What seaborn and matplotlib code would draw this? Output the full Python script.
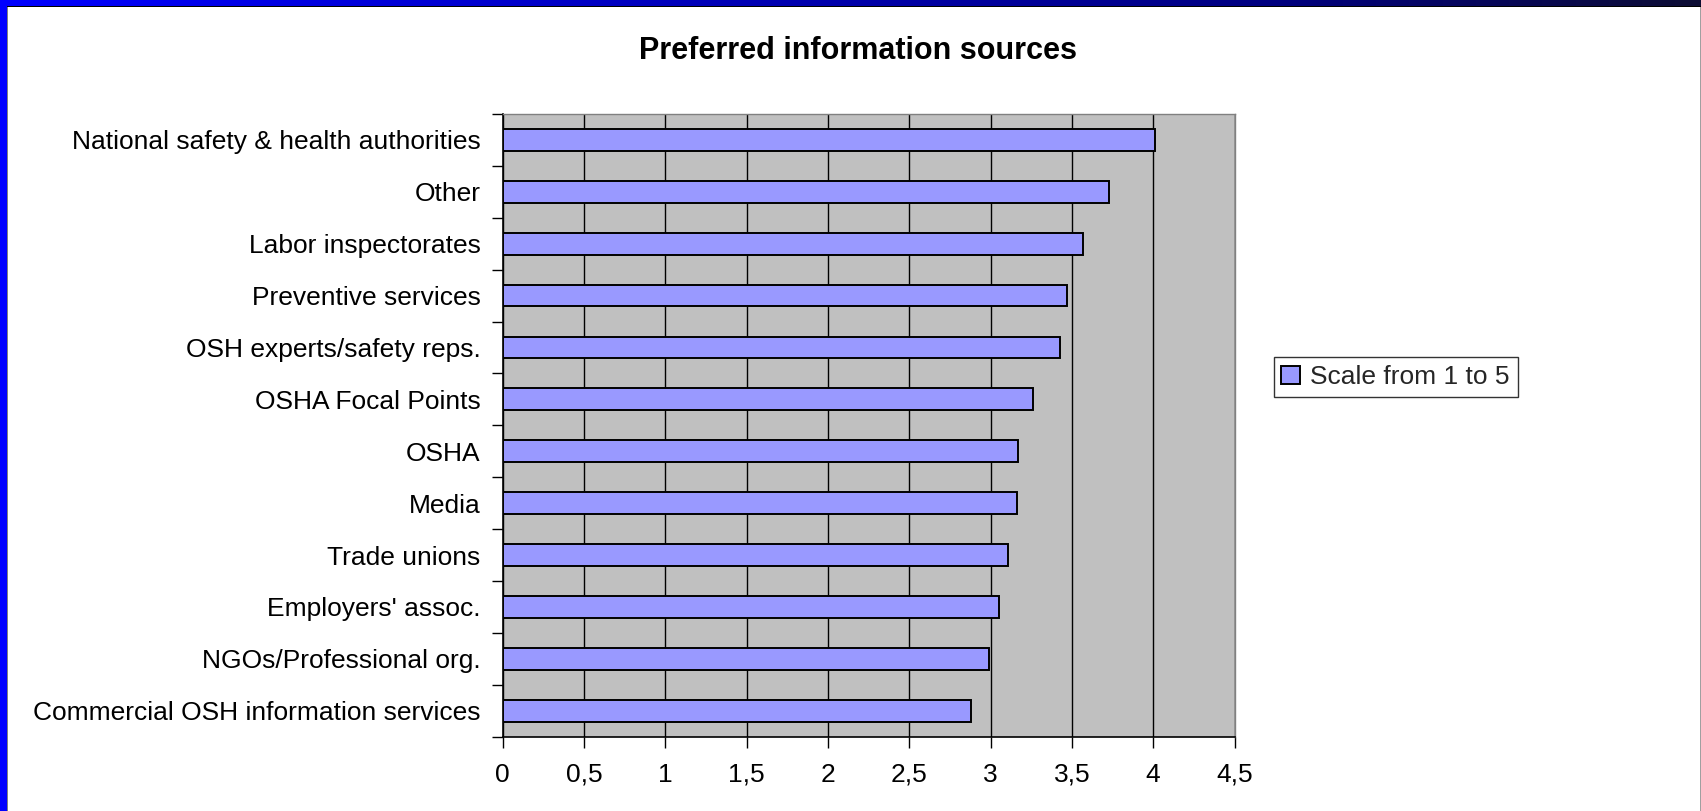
import numpy as np
import matplotlib
matplotlib.use("Agg")
import matplotlib.pyplot as plt
import matplotlib.patches as mpatches
from matplotlib.ticker import FixedLocator, FixedFormatter
import pandas as pd
import seaborn as sns

# Data
categories = [
    "National safety & health authorities",
    "Other",
    "Labor inspectorates",
    "Preventive services",
    "OSH experts/safety reps.",
    "OSHA Focal Points",
    "OSHA",
    "Media",
    "Trade unions",
    "Employers' assoc.",
    "NGOs/Professional org.",
    "Commercial OSH information services",
]
scores = [4.01, 3.73, 3.57, 3.47, 3.43, 3.26, 3.17, 3.16, 3.11, 3.05, 2.99, 2.88]
x_ticks = [0, 0.5, 1, 1.5, 2, 2.5, 3, 3.5, 4, 4.5]
x_tick_labels = ["0", "0,5", "1", "1,5", "2", "2,5", "3", "3,5", "4", "4,5"]
series_name = "Scale from 1 to 5"
title = "Preferred information sources"

df = pd.DataFrame({"source": categories, "score": scores})

sns.set_theme(style="white")
plt.rcParams["font.family"] = ["Liberation Sans", "DejaVu Sans"]

W, H = 1701, 811
fig = plt.figure(figsize=(W / 100, H / 100), dpi=100)
fig.patch.set_facecolor("white")

ax = fig.add_axes([502.6 / W, 1 - 736.6 / H, (1234.5 - 502.6) / W, (736.6 - 114) / H])
ax.set_facecolor("#C0C0C0")

sns.barplot(data=df, x="score", y="source", orient="h", color="#9999FF",
            edgecolor="black", linewidth=1.4, width=0.42, ax=ax,
            label=series_name, saturation=1, zorder=3)

ax.set_xlim(0, 4.5)
ax.set_ylim(len(categories) - 0.5, -0.5)
ax.set_xlabel("")
ax.set_ylabel("")

# vertical grid lines
ax.xaxis.set_major_locator(FixedLocator(x_ticks))
ax.xaxis.set_major_formatter(FixedFormatter(x_tick_labels))
ax.grid(axis="x", color="black", linewidth=1.0, zorder=1)
ax.grid(axis="y", visible=False)
ax.set_axisbelow(True)

# category separators as ticks on the left
ax.yaxis.set_minor_locator(FixedLocator(np.arange(-0.5, len(categories), 1.0)))
ax.tick_params(axis="y", which="major", length=0, pad=16, labelsize=19, labelcolor="black")
ax.tick_params(axis="y", which="minor", left=True, length=8, width=1.0, color="black", direction="out")
ax.tick_params(axis="x", which="major", bottom=True, length=8, width=1.0, color="black",
               direction="out", pad=11, labelsize=19, labelcolor="black")

for side in ("left", "bottom"):
    ax.spines[side].set_color("black")
    ax.spines[side].set_linewidth(1.2)
for side in ("top", "right"):
    ax.spines[side].set_color("#808080")
    ax.spines[side].set_linewidth(1.0)

fig.text(858 / W, 1 - 51 / H, title, ha="center", va="center",
         fontsize=22, fontweight="bold", color="black")

leg = ax.legend(loc="center left", bbox_to_anchor=(1273.5 / W, 1 - 377 / H),
                bbox_transform=fig.transFigure, frameon=True, fancybox=False,
                fontsize=19, handlelength=0.7, handleheight=0.7, handletextpad=0.4,
                borderpad=0.3, borderaxespad=0)
leg.get_frame().set_edgecolor("black")
leg.get_frame().set_linewidth(1.0)

# slide frame: gradient band on top, blue band on the left, thin grey edge on the right
band = fig.add_axes([0, 1 - 6 / H, 1, 6 / H])
grad = np.linspace(0, 1, 512)
r = np.interp(grad, [0, 0.75, 1], [0.0, 0.0, 0.05])
g = np.interp(grad, [0, 0.75, 1], [0.0, 0.0, 0.05])
b = np.interp(grad, [0, 0.75, 1], [1.0, 0.5, 0.2])
band.imshow(np.stack([r, g, b], axis=-1)[None, :, :], aspect="auto", extent=(0, 1, 0, 1))
band.set_axis_off()

fig.patches.append(mpatches.Rectangle((0, 1 - 7 / H), 1, 1 / H, transform=fig.transFigure,
                                      facecolor="black", edgecolor="none", zorder=5))
fig.patches.append(mpatches.Rectangle((0, 0), 7 / W, 1 - 6 / H, transform=fig.transFigure,
                                      facecolor="#0000FF", edgecolor="none", zorder=5))
fig.patches.append(mpatches.Rectangle((7 / W, 0), 1 / W, 1 - 7 / H, transform=fig.transFigure,
                                      facecolor="#808080", edgecolor="none", zorder=5))
fig.patches.append(mpatches.Rectangle((1 - 1 / W, 0), 1 / W, 1 - 7 / H, transform=fig.transFigure,
                                      facecolor="#A0A0A0", edgecolor="none", zorder=5))

fig.savefig("out.png", dpi=100)
